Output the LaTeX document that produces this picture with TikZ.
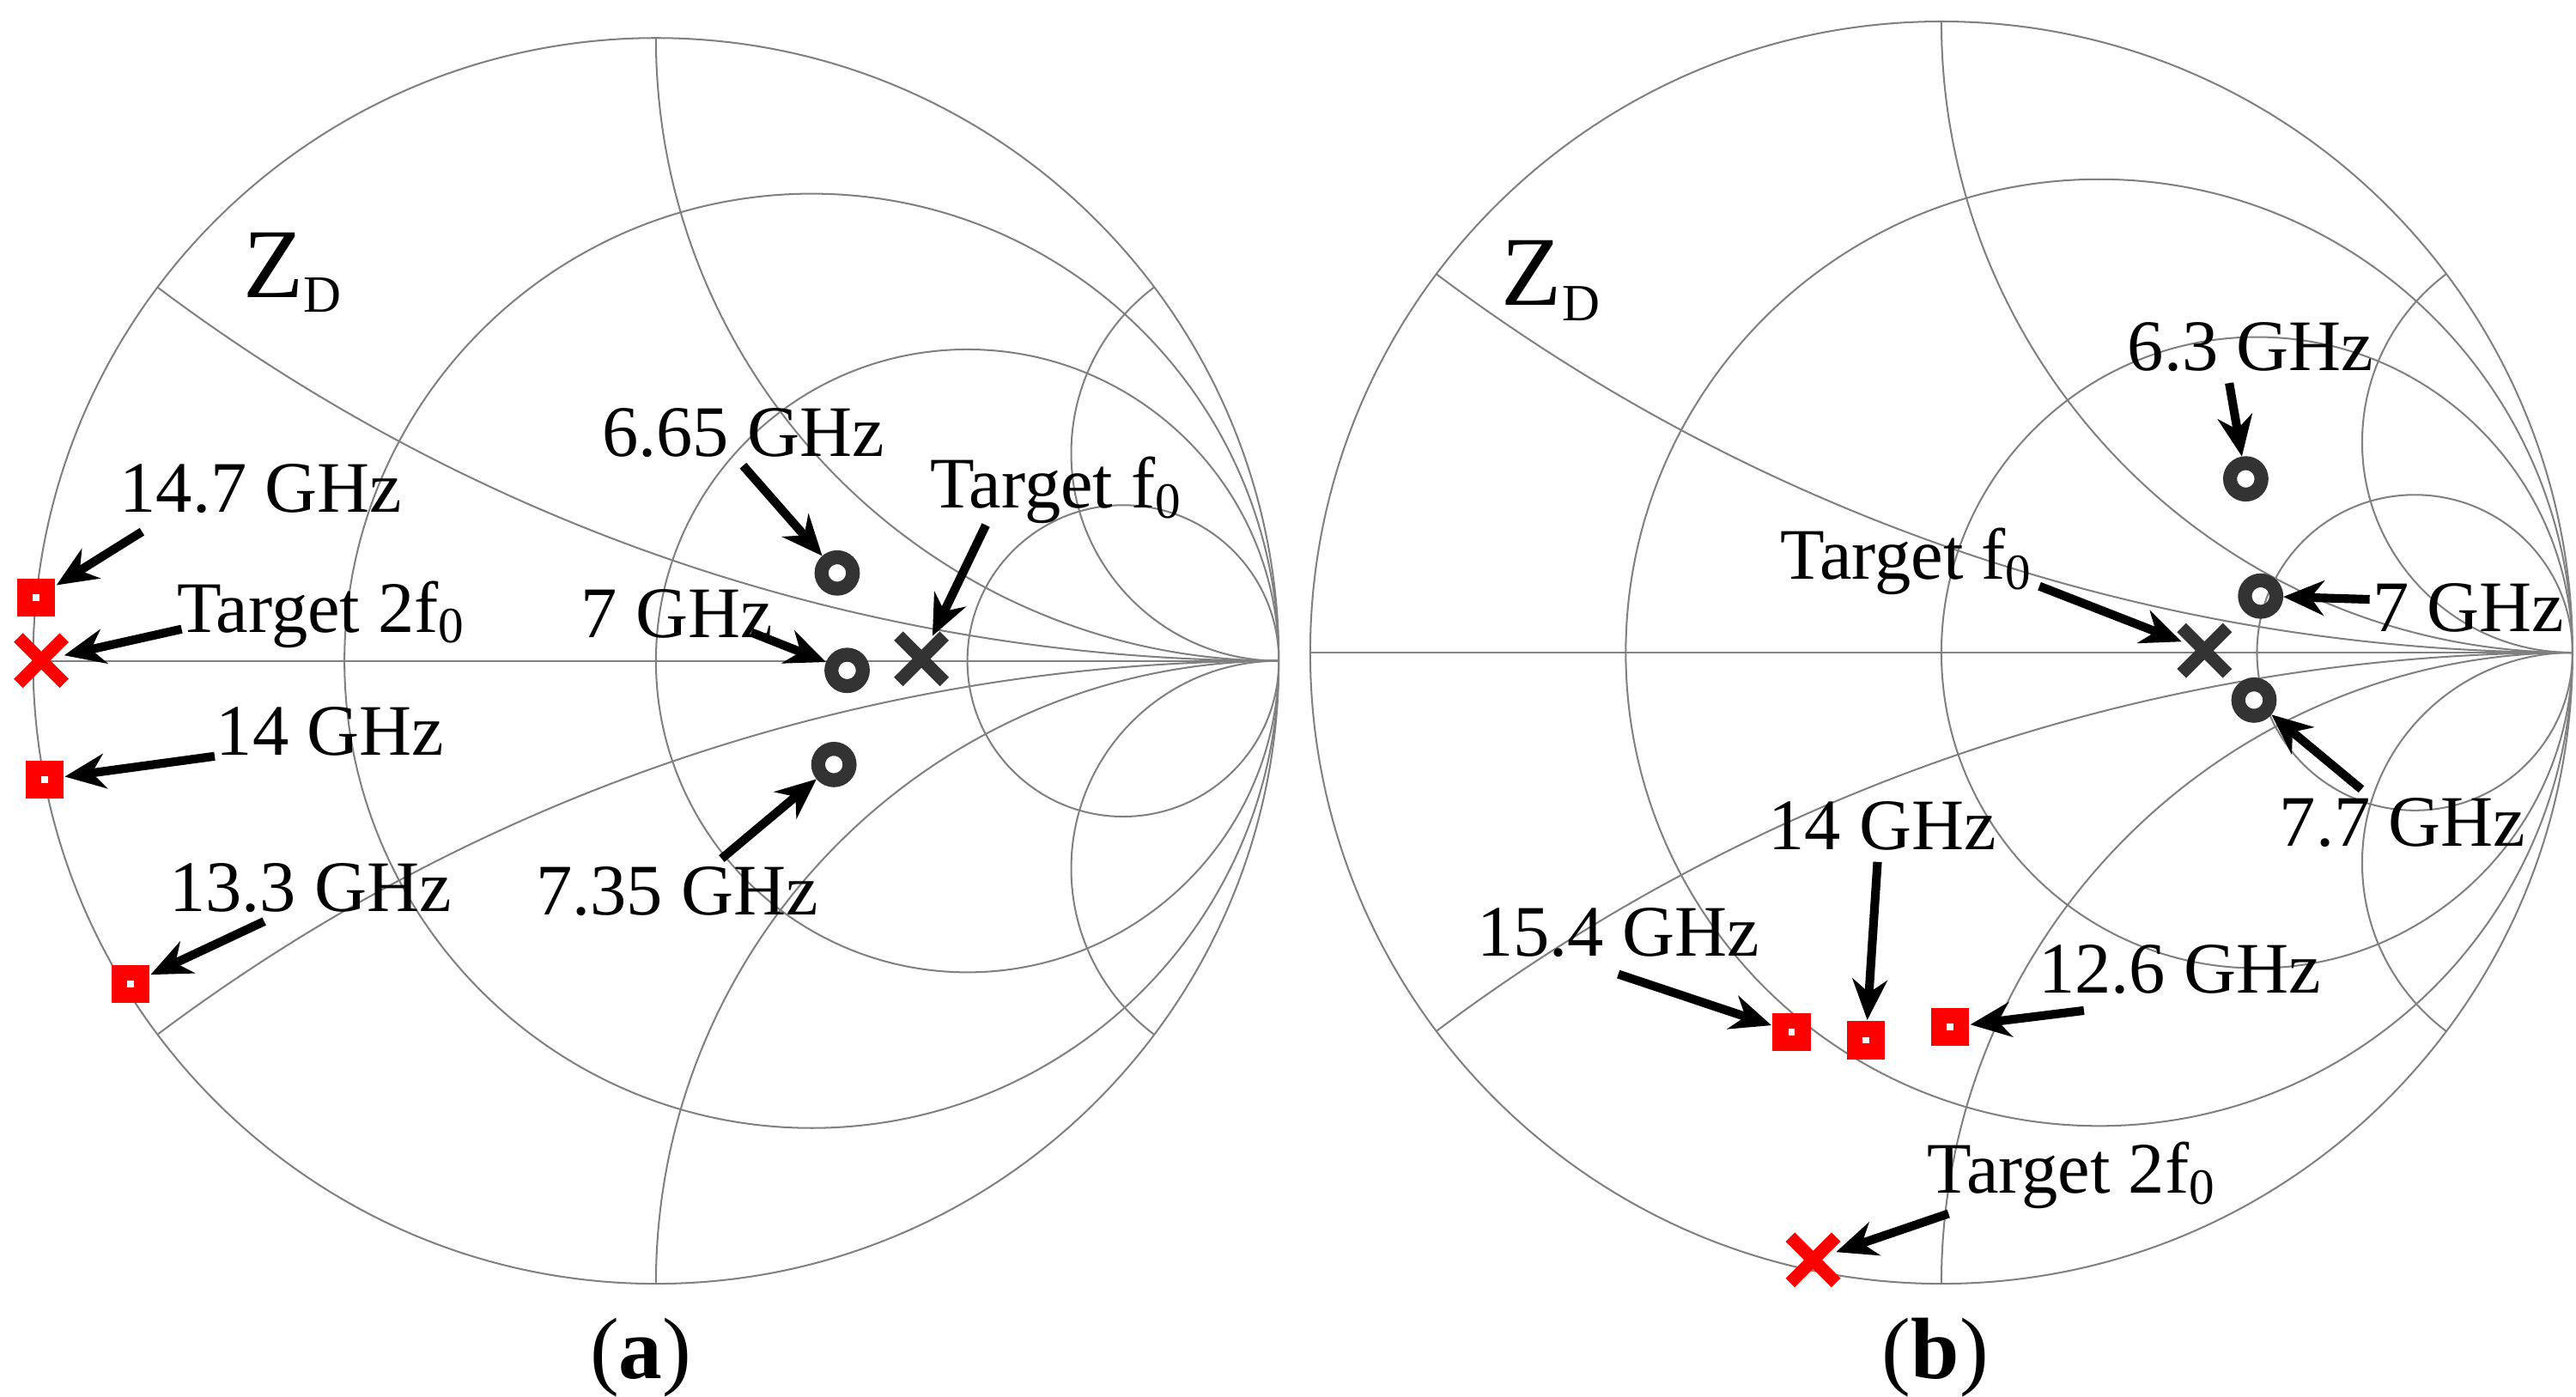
\documentclass[tikz,border=0pt]{standalone}
\usepackage{fontspec}
\setmainfont{Liberation Serif}
\usetikzlibrary{arrows.meta,shapes.misc}
% smith chart: centre (cm), radius (cm)
\newcommand{\smithchart}[3]{%
  \begin{scope}[shift={(#1cm,#2cm)}, x=1cm, y=1cm]
    \begin{scope}
      \clip (0,0) circle [radius=#3cm];
      \foreach \r in {0.3333,1,3}
        \draw[grid] ({#3*\r/(1+\r)},0) circle [radius={#3/(1+\r)*1cm}];
      \foreach \xx in {0.3333,1,3} {
        \draw[grid] (#3,{#3/\xx}) circle [radius={#3/\xx*1cm}];
        \draw[grid] (#3,{-#3/\xx}) circle [radius={#3/\xx*1cm}];
      }
    \end{scope}
    \draw[grid] (0,0) circle [radius=#3cm];
    \draw[grid] (-#3,0) -- (#3,0);
  \end{scope}}
\begin{document}
\begin{tikzpicture}[x=0.01cm, y=-0.01cm,
  grid/.style={draw=black!50, line width=0.3pt},
  ring/.style={circle, draw=black!80, line width=2.4pt, minimum size=0.19cm, inner sep=0pt},
  sq/.style={rectangle, fill=red, minimum size=0.23cm, inner sep=0pt, path picture={\fill[white] ([shift={(-0.02cm,-0.02cm)}]path picture bounding box.center) rectangle +(0.04cm,0.04cm);}},
  cross/.style={cross out, draw=#1, line width=2.2pt, minimum size=0.2cm, inner sep=0pt},
  lbl/.style={font=\fontsize{12.5}{14}\selectfont, inner sep=1pt},
  pt/.style={-{Stealth[length=7pt,width=6pt]}, line width=1.5pt}]
  \useasboundingbox (0,0) rectangle (1560,846);
  \smithchart{3.97}{-4.00}{3.77}
  \smithchart{11.75}{-3.95}{3.82}

  % (a)
  \node[lbl, font=\fontsize{17}{18}\selectfont] (zda) at (178,165) {Z\textsubscript{\fontsize{9}{9}\selectfont D}};
  \node[ring] (a665) at (507,347) {};
  \node[ring] (a7)   at (513,406) {};
  \node[ring] (a735) at (505,463) {};
  \node[cross=black!80] (af0) at (558,399) {};
  \node[sq] (a147) at (22,362) {};
  \node[sq] (a14)  at (27,472) {};
  \node[sq] (a133) at (79,596) {};
  \node[cross=red] (a2f0) at (25,400) {};
  \node[lbl] (la665) at (450,262) {6.65 GHz};
  \node[lbl] (laf0)  at (640,297) {Target f\textsubscript{0}};
  \node[lbl] (la7)   at (410,372) {7 GHz};
  \node[lbl] (la735) at (410,540) {7.35 GHz};
  \node[lbl] (la147) at (158,296) {14.7 GHz};
  \node[lbl] (la2f0) at (195,372) {Target 2f\textsubscript{0}};
  \node[lbl] (la14)  at (200,443) {14 GHz};
  \node[lbl] (la133) at (188,538) {13.3 GHz};
  \coordinate (sa665) at (450,282);
  \coordinate (saf0)  at (597,318);
  \coordinate (sa7)   at (455,383);
  \coordinate (sa735) at (437,520);
  \coordinate (sa147) at (86,322);
  \coordinate (sa2f0) at (110,381);
  \coordinate (sa14)  at (130,458);
  \coordinate (sa133) at (160,558);
  \draw[pt] (sa665) -- (a665);
  \draw[pt] (saf0) -- (af0);
  \draw[pt] (sa7) -- (a7);
  \draw[pt] (sa735) -- (a735);
  \draw[pt] (sa147) -- (a147);
  \draw[pt] (sa2f0) -- (a2f0);
  \draw[pt] (sa14) -- (a14);
  \draw[pt] (sa133) -- (a133);
  \node[lbl, font=\fontsize{15}{16}\selectfont] (capa) at (388,822) {(\textbf{a})};

  % (b)
  \node[lbl, font=\fontsize{17}{18}\selectfont] (zdb) at (940,170) {Z\textsubscript{\fontsize{9}{9}\selectfont D}};
  \node[ring] (b63) at (1360,290) {};
  \node[ring] (b7)  at (1369,361) {};
  \node[ring] (b77) at (1365,424) {};
  \node[cross=black!80] (bf0) at (1335,394) {};
  \node[sq] (b154) at (1085,625) {};
  \node[sq] (b14)  at (1130,630) {};
  \node[sq] (b126) at (1181,622) {};
  \node[cross=red] (b2f0) at (1098,763) {};
  \node[lbl] (lb63)  at (1363,210) {6.3 GHz};
  \node[lbl] (lbf0)  at (1155,340) {Target f\textsubscript{0}};
  \node[lbl] (lb7)   at (1495,368) {7 GHz};
  \node[lbl] (lb77)  at (1455,498) {7.7 GHz};
  \node[lbl] (lb14)  at (1140,500) {14 GHz};
  \node[lbl] (lb154) at (980,565) {15.4 GHz};
  \node[lbl] (lb126) at (1320,587) {12.6 GHz};
  \node[lbl] (lb2f0) at (1255,712) {Target 2f\textsubscript{0}};
  \coordinate (sb63)  at (1350,232);
  \coordinate (sbf0)  at (1235,355);
  \coordinate (sb7)   at (1435,363);
  \coordinate (sb77)  at (1430,478);
  \coordinate (sb14)  at (1137,522);
  \coordinate (sb154) at (980,590);
  \coordinate (sb126) at (1262,612);
  \coordinate (sb2f0) at (1180,735);
  \draw[pt] (sb63) -- (b63);
  \draw[pt] (sbf0) -- (bf0);
  \draw[pt] (sb7) -- (b7);
  \draw[pt] (sb77) -- (b77);
  \draw[pt] (sb14) -- (b14);
  \draw[pt] (sb154) -- (b154);
  \draw[pt] (sb126) -- (b126);
  \draw[pt] (sb2f0) -- (b2f0);
  \node[lbl, font=\fontsize{15}{16}\selectfont] (capb) at (1172,822) {(\textbf{b})};
\end{tikzpicture}
\end{document}
